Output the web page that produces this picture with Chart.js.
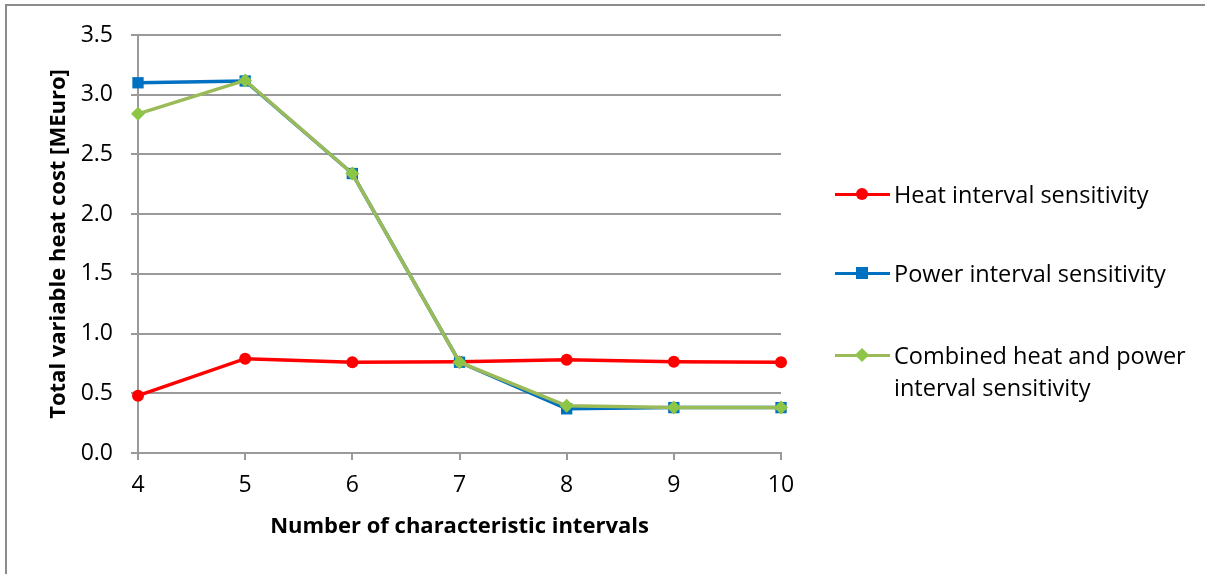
<!DOCTYPE html>
<html>
<head>
<meta charset="utf-8">
<script src="https://cdn.jsdelivr.net/npm/chart.js@4/dist/chart.umd.min.js"></script>
<style>
  html, body { margin: 0; padding: 0; background: #fff; overflow: hidden; }
  #wrap { position: absolute; left: 0; top: 0; width: 1205px; height: 574px; }
  #frame { position: absolute; left: 5px; top: 4px; width: 1220px; height: 600px; border-top: 2px solid #8c8c8c; border-left: 2px solid #8c8c8c; }
  #c { position: absolute; left: 0; top: 0; }
  .leg { position: absolute; left: 894px; font-family: "Open Sans", sans-serif; font-size: 23.5px; color: #000; line-height: 32px; white-space: nowrap; }
  .icon { position: absolute; left: 835px; width: 55px; height: 3px; }
  .mk { position: absolute; }
</style>
</head>
<body>
<div id="wrap">
  <div id="frame"></div>
  <canvas id="c" width="1205" height="574"></canvas>
  <div id="legend"></div>
</div>
<script>
const categories = ['4', '5', '6', '7', '8', '9', '10'];
const heatValues = [0.48, 0.79, 0.76, 0.765, 0.78, 0.765, 0.76];
const powerValues = [3.10, 3.115, 2.34, 0.76, 0.37, 0.38, 0.38];
const combinedValues = [2.84, 3.12, 2.34, 0.76, 0.395, 0.38, 0.38];
const seriesNames = ['Heat interval sensitivity', 'Power interval sensitivity', 'Combined heat and power interval sensitivity'];
const yTicks = [0, 0.5, 1.0, 1.5, 2.0, 2.5, 3.0, 3.5];

const FONT = '"Open Sans", sans-serif';

const chart = new Chart(document.getElementById('c'), {
  type: 'line',
  data: {
    labels: categories,
    datasets: [
      { label: seriesNames[0], data: heatValues, borderColor: '#FF0000', backgroundColor: '#FF0000',
        borderWidth: 3.5, pointStyle: 'circle', pointRadius: 6, pointBorderWidth: 0, order: 2, tension: 0 },
      { label: seriesNames[1], data: powerValues, borderColor: '#0070C0', backgroundColor: '#0070C0',
        borderWidth: 3.5, pointStyle: 'rect', pointRadius: 8, pointBorderWidth: 0, order: 1, tension: 0 },
      { label: seriesNames[2], data: combinedValues, borderColor: '#9BBB59', backgroundColor: '#8DC646',
        borderWidth: 3.5, pointStyle: 'rectRot', pointRadius: 7, pointBorderWidth: 0, order: 0, tension: 0 }
    ]
  },
  options: {
    responsive: false,
    animation: false,
    events: [],
    layout: { padding: { left: 0, top: 35, right: 424, bottom: 0 } },
    plugins: { legend: { display: false }, tooltip: { enabled: false } },
    scales: {
      x: {
        type: 'category',
        offset: false,
        afterFit: (s) => { s.height = 121; },
        grid: { drawOnChartArea: false, drawTicks: true, tickLength: 7, color: '#9a9a9a', lineWidth: 2 },
        border: { color: '#9a9a9a', width: 2 },
        ticks: { color: '#000', font: { family: FONT, size: 23 }, padding: 12, maxRotation: 0 },
        title: { display: true, text: 'Number of characteristic intervals', color: '#000',
                 font: { family: FONT, size: 22, weight: 'bold' }, padding: { top: 0, bottom: 34 } }
      },
      y: {
        min: 0, max: 3.5,
        afterFit: (s) => { s.width = 138; },
        afterBuildTicks: (s) => { s.ticks = yTicks.map(v => ({ value: v })); },
        grid: { color: '#9a9a9a', lineWidth: 2, drawTicks: true, tickLength: 7 },
        border: { color: '#9a9a9a', width: 2 },
        ticks: { color: '#000', font: { family: FONT, size: 23 }, padding: 18,
                 callback: (v) => Number(v).toFixed(1) },
        title: { display: true, text: 'Total variable heat cost [MEuro]', color: '#000',
                 font: { family: FONT, size: 22, weight: 'bold' }, padding: { top: 45.5, bottom: 0 } }
      }
    }
  }
});

// HTML legend
const legendDefs = [
  { color: '#FF0000', marker: 'circle', markerColor: '#FF0000', y: 194, lines: [seriesNames[0]] },
  { color: '#0070C0', marker: 'rect', markerColor: '#0070C0', y: 273, lines: [seriesNames[1]] },
  { color: '#9BBB59', marker: 'diamond', markerColor: '#8DC646', y: 355, lines: ['Combined heat and power', 'interval sensitivity'] }
];
const leg = document.getElementById('legend');
legendDefs.forEach(d => {
  const line = document.createElement('div');
  line.className = 'icon';
  line.style.top = (d.y - 1.5) + 'px';
  line.style.background = d.color;
  leg.appendChild(line);
  const mk = document.createElement('div');
  mk.className = 'mk';
  const cx = 862;
  if (d.marker === 'circle') {
    mk.style.cssText += `left:${cx-6}px;top:${d.y-6}px;width:12px;height:12px;border-radius:50%;background:${d.markerColor};`;
  } else if (d.marker === 'rect') {
    mk.style.cssText += `left:${cx-6}px;top:${d.y-6}px;width:12px;height:12px;background:${d.markerColor};`;
  } else {
    mk.style.cssText += `left:${cx-5}px;top:${d.y-5}px;width:10px;height:10px;background:${d.markerColor};transform:rotate(45deg);`;
  }
  leg.appendChild(mk);
  const t = document.createElement('div');
  t.className = 'leg';
  t.style.top = (d.y - 16) + 'px';
  t.innerHTML = d.lines.join('<br>');
  leg.appendChild(t);
});
</script>
</body>
</html>
